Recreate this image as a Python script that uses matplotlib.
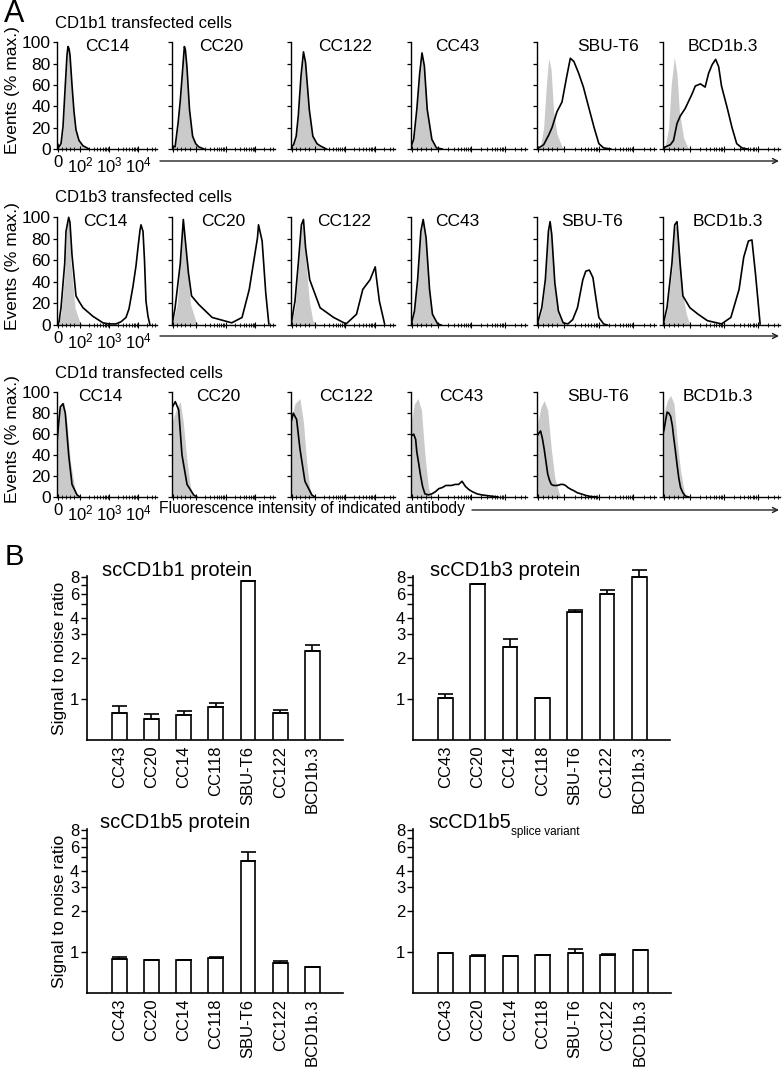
import numpy as np
import matplotlib.pyplot as plt

plt.rcParams['font.family'] = 'Liberation Sans'
plt.rcParams['mathtext.fontset'] = 'custom'
plt.rcParams['mathtext.rm'] = 'Liberation Sans'
plt.rcParams['mathtext.it'] = 'Liberation Sans:italic'

W, H = 782, 1067

# ---- panel A: flow histograms (x = % of display width, y = % max) ----
antibodies = ['CC14', 'CC20', 'CC122', 'CC43', 'SBU-T6', 'BCD1b.3']
row_titles = ['CD1b1 transfected cells', 'CD1b3 transfected cells', 'CD1d transfected cells']

cd1b1_gray = [
    ([0, 2, 4, 6, 8, 10, 11, 12, 13, 15, 17, 19, 22, 26, 32], [3, 2, 4, 18, 52, 85, 93, 91, 85, 57, 32, 16, 7, 2, 0]),
    ([0, 3, 6, 8, 10, 12, 13, 14.5, 17, 20, 23, 26, 31], [2, 2, 22, 42, 67, 93, 90, 74, 35, 11, 4, 1, 0]),
    ([0, 2.5, 5, 7, 9.6, 12, 14, 17.6, 21, 25, 28, 34], [2, 4, 11, 29, 65, 88, 78, 35, 11, 4, 2, 0]),
    ([0, 2.3, 5, 7.5, 9.5, 11.5, 14, 18, 22, 27], [1, 8, 35, 68, 88, 76, 35, 8, 1, 0]),
    ([0, 2.8, 5.6, 7.8, 9.8, 11.8, 14, 16.8, 21, 24], [0, 2, 20, 59, 85, 75, 35, 14, 2, 0]),
    ([0, 2, 4.8, 7, 9.7, 12, 14, 17.7, 22], [0, 3, 20, 60, 86, 70, 35, 10, 0]),
]
cd1b1_black = [
    ([0, 2, 4, 6, 8, 10, 11, 12, 13, 15, 17, 19, 22, 26, 32], [6, 2, 5, 21, 55, 88, 96, 94, 88, 60, 35, 18, 8, 3, 0]),
    ([0, 3, 6, 8, 10, 12, 13, 14.5, 17, 20, 23, 26, 31], [3, 2, 25, 45, 70, 96, 93, 77, 37, 12, 5, 2, 0]),
    ([0, 2.5, 5, 7, 9.6, 12, 14, 17.6, 21, 25, 28, 34], [2, 4, 12, 31, 68, 91, 81, 37, 12, 5, 3, 0]),
    ([0, 2.3, 5, 7.5, 9.5, 11.5, 14, 18, 22, 27], [2, 9, 37, 71, 90, 78, 37, 9, 1, 0]),
    ([0, 1.4, 5.6, 9.8, 12.6, 16.8, 21, 25, 28, 31, 35, 39, 43, 48, 52, 56, 62],
     [0, 1, 4, 13, 20, 35, 44, 68, 85, 82, 71, 58, 41, 20, 5, 1, 0]),
    ([0, 2, 6.3, 9, 12, 14.8, 19, 25, 27.6, 32, 36, 39, 42, 45, 47.6, 50, 55, 59, 63, 67.5, 72],
     [0, 2, 4, 8, 24, 31, 38, 52, 59, 61, 58, 71, 79, 84, 77, 59, 38, 20, 5, 1, 0]),
]

cd1b3_gray = [
    ([0, 4, 7.7, 10, 12, 14, 18, 23, 26], [0, 10, 48, 93, 97, 57, 16, 2, 0]),
    ([0, 5, 8, 11, 14.6, 18, 23, 26], [0, 19, 57, 95, 57, 19, 4, 0]),
    ([0, 3.8, 7, 10, 12, 14, 17.6, 21, 25], [0, 16, 51, 90, 96, 63, 22, 4, 0]),
    ([0, 3, 5.7, 8.5, 10.5, 13, 16, 18.5, 23, 26], [0, 12, 40, 85, 96, 79, 32, 9, 1, 0]),
    ([0, 4, 7, 9.6, 11, 13, 15, 18, 22], [0, 13, 39, 84, 93, 72, 33, 10, 0]),
    ([0, 3.4, 7.6, 10, 12, 14.6, 17, 20, 23], [0, 13, 51, 90, 93, 63, 27, 10, 0]),
]
cd1b3_black = [
    ([0, 2, 4, 7.7, 9, 11.7, 13, 15, 19, 22, 26, 31, 36, 41, 46, 52, 59, 64, 69, 72, 76, 79, 81, 83, 84, 86, 87.5, 89, 91, 93],
     [0, 3, 16, 57, 87, 100, 95, 65, 27, 22, 16, 12, 8, 5, 2, 1, 1, 3, 7, 15, 36, 55, 72, 88, 93, 87, 60, 22, 8, 0]),
    ([0, 3, 8, 11, 13, 16, 19, 26, 39, 58, 68, 75, 79, 83, 84, 87.5, 91, 94],
     [0, 16, 57, 98, 78, 48, 27, 19, 7, 2, 7, 33, 57, 81, 93, 78, 30, 1]),
    ([0, 3.8, 7, 10, 12, 14, 18, 28, 41, 53, 63, 69, 76, 81, 82, 85, 90],
     [0, 22, 57, 93, 98, 72, 42, 16, 7, 1, 10, 33, 42, 54, 45, 22, 1]),
    ([0, 3, 5.7, 8.5, 10.5, 13, 16, 18.5, 23, 26], [0, 13, 42, 87, 98, 81, 33, 10, 1, 0]),
    ([0, 4, 7, 9.6, 11, 12.4, 15, 18, 22, 26, 30, 34, 38.5, 41, 44, 47, 49.5, 52, 56, 59],
     [0, 16, 42, 87, 96, 84, 39, 13, 2, 1, 5, 16, 42, 50, 51, 44, 25, 7, 1, 0]),
    ([0, 3.4, 7.6, 10, 12, 14.6, 17, 23, 30, 38, 50, 58, 65, 69, 73, 76, 79, 82, 83],
     [0, 16, 57, 93, 96, 57, 27, 16, 10, 4, 1, 7, 33, 63, 78, 79, 48, 13, 1]),
]

cd1d_gray = [
    ([0, 3.3, 6.7, 10, 13.3, 18.3, 21.7], [62, 86, 91, 71, 34, 6, 0]),
    ([0, 5, 8, 11, 14.6, 18, 21], [71, 86, 91, 71, 34, 9, 0]),
    ([0, 3.8, 8.6, 12, 15, 18, 21], [74, 89, 94, 71, 34, 9, 0]),
    ([0, 3, 6, 9, 12, 15, 17.5], [71, 89, 94, 83, 40, 9, 0]),
    ([0, 3.4, 6, 9, 12, 15, 19, 20], [68, 86, 92, 83, 46, 18, 2, 0]),
    ([0, 3.7, 6.5, 9.4, 12, 15, 18, 20], [77, 92, 97, 89, 55, 25, 6, 0]),
]
cd1d_black = [
    ([0, 1.7, 3.3, 6, 8.3, 11.7, 15, 20, 23], [52, 71, 86, 89, 80, 40, 12, 2, 0]),
    ([0, 3.2, 6.5, 9.7, 14.6, 21, 24], [85, 91, 83, 40, 12, 2, 0]),
    ([0, 2.2, 5.4, 8.6, 13.4, 20, 23], [71, 80, 74, 46, 15, 2, 0]),
    ([0, 2.3, 4, 5, 6.5, 8, 10, 12, 15, 18, 21, 24, 27, 30, 35, 38, 41, 44, 47, 50, 53, 57, 61, 68, 75],
     [58, 60, 55, 43, 33, 22, 10, 3, 2, 3, 5, 8, 9, 11, 11, 12, 12, 15, 10, 7, 5, 3, 2, 1, 0]),
    ([0, 1, 3, 4.5, 6, 7.5, 9, 10.5, 12, 14, 17, 20, 22, 24, 26, 29, 31, 34, 37, 41, 45, 50],
     [58, 60, 63, 56, 46, 34, 22, 16, 12, 11, 11, 12, 12, 11, 9, 7, 6, 4, 3, 1.5, 0.5, 0]),
    ([0, 1, 2.5, 3.6, 5, 6.5, 8, 9, 10.5, 12, 13.5, 15, 17, 19, 22],
     [60, 65, 75, 81, 80, 77, 68, 58, 45, 31, 18, 9, 4, 1, 0]),
]

hist_gray = [cd1b1_gray, cd1b3_gray, cd1d_gray]
hist_black = [cd1b1_black, cd1b3_black, cd1d_black]

# ---- panel B: signal to noise ratios ----
cells = ['CC43', 'CC20', 'CC14', 'CC118', 'SBU-T6', 'CC122', 'BCD1b.3']
b1_mean = [0.795, 0.72, 0.768, 0.872, 7.38, 0.79, 2.28]
b1_err = [0.09, 0.06, 0.055, 0.065, 0.0, 0.045, 0.24]
b3_mean = [1.02, 7.05, 2.43, 1.02, 4.38, 6.0, 7.9]
b3_err = [0.08, 0.0, 0.36, 0.0, 0.18, 0.36, 1.08]
b5_mean = [0.887, 0.877, 0.877, 0.913, 4.7, 0.829, 0.774]
b5_err = [0.042, 0.005, 0.005, 0.005, 0.77, 0.038, 0.0]
sv_mean = [0.983, 0.945, 0.94, 0.955, 0.983, 0.955, 1.03]
sv_err = [0.01, 0.015, 0.005, 0.005, 0.067, 0.015, 0.0]


def box(l, t, r, b):
    return [l / W, 1 - b / H, (r - l) / W, (b - t) / H]


fig = plt.figure(figsize=(W / 100, H / 100), dpi=100)

cols = [(57, 157), (172, 275), (291, 395), (411, 527), (537, 656), (663, 780)]
rows_y = [(38, 149), (213, 325), (388, 497)]
title_y = [23, 197, 373]
label_x = [[50, 48, 52, 40, 60, 51], [48, 50, 51, 40, 46, 55], [43, 45, 53, 43, 51, 47]]

major = [1, 23, 52, 81]
minor = [5, 9, 13, 17]
for base in (23, 52, 81):
    for k in range(2, 10):
        p = base + 29 * np.log10(k)
        if p < 100:
            minor.append(p)

for r in range(3):
    top, bot = rows_y[r]
    for c in range(6):
        ax = fig.add_axes(box(cols[c][0], top, cols[c][1], bot))
        gx, gy = hist_gray[r][c]
        bx, by = hist_black[r][c]
        ax.fill_between(gx, gy, 0, color='#cacaca', lw=0)
        ax.plot(bx, by, color='black', lw=1.2)
        ax.set_xlim(0, 100)
        ax.set_ylim(0, 104)
        for s in ['top', 'right']:
            ax.spines[s].set_visible(False)
        for s in ['left', 'bottom']:
            ax.spines[s].set_linewidth(1.0)
        ax.spines['left'].set_bounds(0, 100)
        ax.set_yticks([0, 20, 40, 60, 80, 100])
        ax.set_xticks(major)
        ax.set_xticks(minor, minor=True)
        ax.tick_params(axis='y', direction='out', length=3, width=0.9, pad=1.5, labelsize=12.5)
        ax.tick_params(axis='x', which='major', direction='inout', length=4, width=0.8, pad=2.5, labelsize=12)
        ax.tick_params(axis='x', which='minor', direction='inout', length=2.5, width=0.6)
        if c == 0:
            ax.set_xticklabels(['0', '$10^2$', '$10^3$', '$10^4$'])
        else:
            ax.set_yticklabels([])
            ax.set_xticklabels([])
        ax.text(label_x[r][c] / 100, 0.92, antibodies[c], transform=ax.transAxes,
                fontsize=12.5, ha='center', va='center')

bar_sets = [
    (b1_mean, b1_err, (87, 576, 343, 740), True),
    (b3_mean, b3_err, (413, 576, 670, 740), False),
    (b5_mean, b5_err, (87, 829, 343, 993), True),
    (sv_mean, sv_err, (413, 829, 671, 993), False),
]
xpos = np.arange(len(cells))
for means, errs, (l, t, rr, b), left in bar_sets:
    ax = fig.add_axes(box(l, t, rr, b))
    ax.patch.set_alpha(0)
    ax.bar(xpos, means, width=0.46, color='white', edgecolor='black', lw=1.2, zorder=2)
    eb = ax.errorbar(xpos, means, yerr=[np.zeros(len(means)), errs], fmt='none',
                     ecolor='black', elinewidth=1.2, capsize=5.4, capthick=1.2, zorder=3)
    for art in eb.lines[1] + eb.lines[2]:
        art.set_clip_on(False)
    ax.set_yscale('log')
    ax.set_ylim(0.5, 8.1)
    ax.set_xlim(-1, 6.95)
    ax.set_yticks([1, 2, 3, 4, 5, 6, 7, 8])
    ax.set_yticklabels(['1', '2', '3', '4', '', '6', '', '8'])
    ax.minorticks_off()
    ax.set_xticks(xpos)
    ax.set_xticklabels(cells, rotation=90)
    ax.tick_params(axis='y', direction='out', length=4, width=1, pad=1.5, labelsize=12)
    ax.tick_params(axis='x', length=0, pad=4, labelsize=12)
    for s in ['top', 'right']:
        ax.spines[s].set_visible(False)
    for s in ['left', 'bottom']:
        ax.spines[s].set_linewidth(1.2)
    if left:
        ax.set_ylabel('Signal to noise ratio', fontsize=12.5, labelpad=2)

# overlay for free text and arrows, in pixel coordinates
ov = fig.add_axes([0, 0, 1, 1], zorder=10)
ov.set_xlim(0, W)
ov.set_ylim(H, 0)
ov.axis('off')

ov.text(14, 14, 'A', fontsize=22, ha='center', va='center')
ov.text(14, 557, 'B', fontsize=21, ha='center', va='center')

for r in range(3):
    top, bot = rows_y[r]
    ov.text(55, title_y[r], row_titles[r], fontsize=12, va='center')
    ov.text(13, (top + bot) / 2 - 3, 'Events (% max.)', fontsize=12.5, rotation=90,
            ha='center', va='center')

arrow = dict(arrowstyle='->', lw=1.0, color='#222222', mutation_scale=9, shrinkA=0, shrinkB=0)
ov.annotate('', xy=(779, 161), xytext=(160, 161), arrowprops=arrow)
ov.annotate('', xy=(779, 336), xytext=(160, 336), arrowprops=arrow)
ov.annotate('', xy=(779, 510), xytext=(472, 510), arrowprops=arrow)
ov.text(159, 509, 'Fluorescence intensity of indicated antibody', fontsize=11.3, va='center')

ov.text(102, 570, 'scCD1b1 protein', fontsize=14.5, va='center')
ov.text(430, 570, 'scCD1b3 protein', fontsize=14.5, va='center')
ov.text(100, 823, 'scCD1b5 protein', fontsize=14.5, va='center')
t5 = ov.text(428, 823, 'scCD1b5', fontsize=14.5, va='center')
ov.annotate('splice variant', xy=(1.0, 0.05), xycoords=t5, fontsize=8.5, ha='left', va='center')

fig.savefig('out.png', dpi=100)
